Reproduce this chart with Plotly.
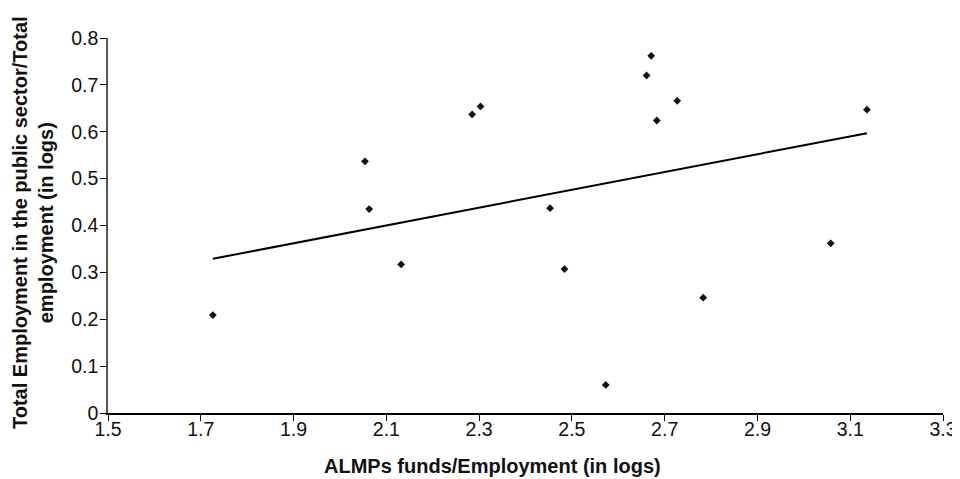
import plotly.graph_objects as go

# Data
almps_x = [1.726, 2.054, 2.063, 2.132, 2.285, 2.303, 2.453, 2.484, 2.573,
           2.661, 2.671, 2.683, 2.727, 2.783, 3.058, 3.136]
public_y = [0.209, 0.537, 0.435, 0.317, 0.637, 0.654, 0.437, 0.307, 0.060,
            0.720, 0.762, 0.624, 0.666, 0.246, 0.362, 0.647]

trend_x = [1.726, 3.136]
trend_y = [0.329, 0.597]

x_ticks = [1.5, 1.7, 1.9, 2.1, 2.3, 2.5, 2.7, 2.9, 3.1, 3.3]
y_ticks = [0, 0.1, 0.2, 0.3, 0.4, 0.5, 0.6, 0.7, 0.8]

FONT = "Liberation Sans, Arial, Helvetica, sans-serif"

# page body has an 8px margin: figure is shifted by 8px, so size accordingly
W, H = 952, 471
L, R, T, B = 100, 17, 30, 66
PW = W - L - R
PH = H - T - B
OFF = 8  # page offset of the figure

fig = go.Figure()
fig.add_trace(go.Scatter(
    x=almps_x, y=public_y, mode="markers",
    marker=dict(symbol="diamond", size=6, color="#111111", line=dict(width=0)),
    showlegend=False, hoverinfo="x+y"))
fig.add_trace(go.Scatter(
    x=trend_x, y=trend_y, mode="lines",
    line=dict(color="#000000", width=2),
    showlegend=False, hoverinfo="skip"))

fig.update_layout(
    width=W, height=H,
    margin=dict(l=L, r=R, t=T, b=B),
    paper_bgcolor="white", plot_bgcolor="white",
    font=dict(family=FONT, size=19.5, color="#111111"),
    xaxis=dict(range=[1.5, 3.3], tickvals=x_ticks,
               ticktext=[f"{v:.1f}" for v in x_ticks],
               automargin=False,
               showgrid=False, zeroline=False, showline=True,
               linecolor="#000000", linewidth=1.5,
               ticks="outside", ticklen=6, tickcolor="#000000", tickwidth=1,
               ticklabelstandoff=-8,
               tickfont=dict(size=19.5, family=FONT)),
    yaxis=dict(range=[0, 0.8], tickvals=y_ticks,
               ticktext=["0"] + [f"{v:.1f}" for v in y_ticks[1:]],
               automargin=False,
               showgrid=False, zeroline=False, showline=True,
               linecolor="#555555", linewidth=1.5,
               ticks="outside", ticklen=6, tickcolor="#000000", tickwidth=1,
               ticklabelstandoff=-2,
               tickfont=dict(size=19.5, family=FONT)),
    annotations=[
        dict(text="<b>ALMPs funds/Employment (in logs)</b>",
             xref="paper", yref="paper", x=(492 - 108) / PW, y=-(466 - 413) / PH,
             xanchor="center", yanchor="middle", showarrow=False,
             font=dict(size=20, family=FONT, color="#111111")),
        dict(text="<b>Total Employment in the public sector/Total<br>employment (in logs)</b>",
             xref="paper", yref="paper", x=-(108 - 33) / PW, y=(413 - 223) / PH,
             xanchor="center", yanchor="middle", showarrow=False,
             textangle=-90,
             font=dict(size=20, family=FONT, color="#111111")),
    ],
)

fig.write_html("out.html")
